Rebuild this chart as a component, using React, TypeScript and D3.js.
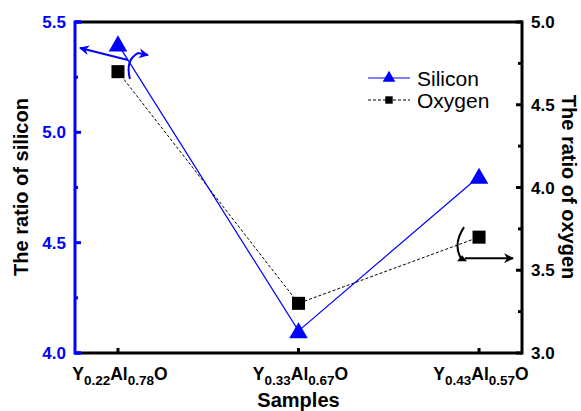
import * as d3 from "d3";

const samples = ["0.22|0.78", "0.33|0.67", "0.43|0.57"];
const silicon = [5.4, 4.1, 4.8];
const oxygen = [4.7, 3.3, 3.7];
const leftTicks = [4.0, 4.5, 5.0, 5.5];
const rightTicks = [3.0, 3.5, 4.0, 4.5, 5.0];

const W = 581;
const H = 411;
const M = { left: 75, right: 522, top: 22, bottom: 353 };
const FONT = "'Liberation Sans', Arial, sans-serif";
const BLUE = "#0000ff";

export default function App() {
  const x = d3.scalePoint<string>().domain(samples).range([M.left, M.right]).padding(0.238);
  const yL = d3.scaleLinear().domain([4.0, 5.5]).range([M.bottom, M.top]);
  const yR = d3.scaleLinear().domain([3.0, 5.0]).range([M.bottom, M.top]);

  const lineL = d3.line<number>().x((_, i) => x(samples[i])!).y((d) => yL(d));
  const lineR = d3.line<number>().x((_, i) => x(samples[i])!).y((d) => yR(d));
  const tri = d3.symbol(d3.symbolTriangle, 150)();
  const sq = d3.symbol(d3.symbolSquare, 170)();

  const leftMinor = d3.range(4.25, 5.5, 0.5);
  const rightMinor = d3.range(3.25, 5.0, 0.5);

  // annotation anchors from the first and last points
  const p0x = x(samples[0])!;
  const p0y = yL(silicon[0]);
  const p2x = x(samples[2])!;
  const p2y = yR(oxygen[2]);

  return (
    <svg width={W} height={H} style={{ position: "absolute", left: 0, top: 0 }} fontFamily={FONT}>
      <defs>
        <marker id="ab" viewBox="0 0 10 10" refX="9" refY="5" markerWidth="5" markerHeight="5" orient="auto">
          <path d="M0,0 L10,5 L0,10 L3,5 Z" fill={BLUE} />
        </marker>
        <marker id="ak" viewBox="0 0 10 10" refX="9" refY="5" markerWidth="5" markerHeight="5" orient="auto">
          <path d="M0,0 L10,5 L0,10 L3,5 Z" fill="#000" />
        </marker>
      </defs>
      <rect width={W} height={H} fill="#fff" />

      {/* frame */}
      <line x1={M.left} x2={M.right} y1={M.top} y2={M.top} stroke="#000" strokeWidth={3} />
      <line x1={M.left} x2={M.right} y1={M.bottom} y2={M.bottom} stroke="#000" strokeWidth={3} />
      <line x1={M.right} x2={M.right} y1={M.top - 1.5} y2={M.bottom + 1.5} stroke="#000" strokeWidth={3} />
      <line x1={M.left} x2={M.left} y1={M.top - 1.5} y2={M.bottom + 1.5} stroke={BLUE} strokeWidth={3} />
      <line x1={M.left} x2={M.left + 6} y1={M.top} y2={M.top} stroke={BLUE} strokeWidth={3} />
      <line x1={M.left} x2={M.left + 6} y1={M.bottom} y2={M.bottom} stroke={BLUE} strokeWidth={3} />

      {/* x ticks */}
      {samples.map((s) => (
        <line key={s} x1={x(s)} x2={x(s)} y1={M.bottom} y2={M.bottom - 5} stroke="#000" strokeWidth={3} />
      ))}
      {samples.map((s) => {
        const [a, b] = s.split("|");
        return (
          <text key={"l" + s} x={x(s)! + 2} y={380} textAnchor="middle" fontWeight="bold" fontSize={17.5}>
            Y
            <tspan fontSize={13.5} dy={5}>{a}</tspan>
            <tspan dy={-5}>Al</tspan>
            <tspan fontSize={13.5} dy={5}>{b}</tspan>
            <tspan dy={-5}>O</tspan>
          </text>
        );
      })}
      <text x={(M.left + M.right) / 2} y={407} textAnchor="middle" fontWeight="bold" fontSize={20}>
        Samples
      </text>

      {/* left axis */}
      {leftTicks.map((t) => (
        <g key={t}>
          <line x1={M.left} x2={M.left + 6} y1={yL(t)} y2={yL(t)} stroke={BLUE} strokeWidth={3} />
          <text x={66} y={yL(t) + 6} textAnchor="end" fontWeight="bold" fontSize={17} fill={BLUE}>
            {t.toFixed(1)}
          </text>
        </g>
      ))}
      {leftMinor.map((t) => (
        <line key={t} x1={M.left} x2={M.left + 3} y1={yL(t)} y2={yL(t)} stroke={BLUE} strokeWidth={3} />
      ))}
      <text
        transform={`translate(28,187) rotate(-90)`}
        textAnchor="middle"
        fontWeight="bold"
        fontSize={20}
      >
        The ratio of silicon
      </text>

      {/* right axis */}
      {rightTicks.map((t) => (
        <g key={t}>
          <line x1={M.right} x2={M.right - 6} y1={yR(t)} y2={yR(t)} stroke="#000" strokeWidth={3} />
          <text x={531} y={yR(t) + 6} fontWeight="bold" fontSize={17}>
            {t.toFixed(1)}
          </text>
        </g>
      ))}
      {rightMinor.map((t) => (
        <line key={t} x1={M.right} x2={M.right - 4} y1={yR(t)} y2={yR(t)} stroke="#000" strokeWidth={3} />
      ))}
      <text
        transform={`translate(562,187) rotate(90)`}
        textAnchor="middle"
        fontWeight="bold"
        fontSize={20}
      >
        The ratio of oxygen
      </text>

      {/* series */}
      <path d={lineR(oxygen)!} fill="none" stroke="#000" strokeWidth={1} strokeDasharray="3,2" />
      <path d={lineL(silicon)!} fill="none" stroke={BLUE} strokeWidth={1.2} />
      {oxygen.map((v, i) => (
        <path key={"o" + i} d={sq!} transform={`translate(${x(samples[i])},${yR(v)})`} fill="#000" />
      ))}
      {silicon.map((v, i) => (
        <path key={"s" + i} d={tri!} transform={`translate(${x(samples[i])},${yL(v) + 2})`} fill={BLUE} />
      ))}

      {/* annotation arrows */}
      <line x1={p0x + 10} y1={p0y + 16} x2={p0x - 38} y2={p0y + 4} stroke={BLUE} strokeWidth={2} markerEnd="url(#ab)" />
      <path
        d={`M${p0x + 12},${p0y + 35} Q${p0x + 7},${p0y + 16} ${p0x + 20},${p0y + 9} L${p0x + 30},${p0y + 11}`}
        fill="none"
        stroke={BLUE}
        strokeWidth={2}
        markerEnd="url(#ab)"
      />
      <line x1={p2x - 14} y1={p2y + 21} x2={p2x + 34} y2={p2y + 21} stroke="#000" strokeWidth={2} markerEnd="url(#ak)" />
      <path
        d={`M${p2x - 15},${p2y - 10} Q${p2x - 27},${p2y + 8} ${p2x - 17},${p2y + 23}`}
        fill="none"
        stroke="#000"
        strokeWidth={2}
      />
      <path d={`M${p2x - 17},${p2y + 18} L${p2x - 12},${p2y + 24} L${p2x - 22},${p2y + 24} Z`} fill="#000" />

      {/* legend */}
      <g fontSize={21}>
        <line x1={368} x2={410} y1={78} y2={78} stroke={BLUE} strokeWidth={1.2} />
        <path d={d3.symbol(d3.symbolTriangle, 70)()!} transform="translate(389,78)" fill={BLUE} />
        <text x={417} y={85.5}>Silicon</text>
        <line x1={368} x2={410} y1={100} y2={100} stroke="#000" strokeWidth={1} strokeDasharray="3,2" />
        <path d={d3.symbol(d3.symbolSquare, 55)()!} transform="translate(389,100)" fill="#000" />
        <text x={417} y={107.5}>Oxygen</text>
      </g>
    </svg>
  );
}
